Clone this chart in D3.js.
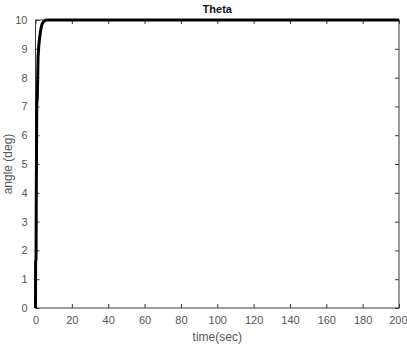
<!DOCTYPE html>
<html><head><meta charset="utf-8">
<script src="https://cdn.jsdelivr.net/npm/d3@7"></script>
<style>body{margin:0;background:#fff}svg{display:block}</style>
</head><body>
<svg id="c" width="407" height="348"></svg>
<script>
const timeSec = [0, 0.05, 0.3, 0.4, 0.7, 1.0, 1.4, 1.8, 2.3, 3.0, 3.6, 4.5, 5.8, 200];
const angleDeg = [0, 1.6, 1.7, 3.5, 7.1, 7.3, 8.7, 9.1, 9.4, 9.7, 9.86, 9.95, 10, 10];
const xTicks = [0,20,40,60,80,100,120,140,160,180,200];
const yTicks = [0,1,2,3,4,5,6,7,8,9,10];
const title = "Theta", xLabel = "time(sec)", yLabel = "angle (deg)";

const svg = d3.select("#c");
const m = {l:35.5, r:399, t:20, b:308};
const x = d3.scaleLinear().domain([0,200]).range([m.l,m.r]);
const y = d3.scaleLinear().domain([0,10]).range([m.b,m.t]);
const axisCol = "#3a3a3a", txtCol = "#555";
const font = "Liberation Sans, Arial, sans-serif";

function style(g){
  g.select(".domain").remove();
  g.selectAll("line").attr("stroke",axisCol);
  g.selectAll("text").attr("fill",txtCol).style("font-family",font).style("font-size","11px");
}
const xb = svg.append("g").attr("transform",`translate(0,${m.b})`)
  .call(d3.axisBottom(x).tickValues(xTicks).tickSizeInner(-4).tickSizeOuter(0).tickPadding(8)).call(style);
xb.selectAll("text").filter(d=>d===200).attr("text-anchor","end").attr("dx","8px");
svg.append("g").attr("transform",`translate(0,${m.t})`)
  .call(d3.axisTop(x).tickValues(xTicks).tickSizeInner(-4).tickSizeOuter(0).tickFormat("")).call(style);
svg.append("g").attr("transform",`translate(${m.l},0)`)
  .call(d3.axisLeft(y).tickValues(yTicks).tickSizeInner(-4).tickSizeOuter(0).tickPadding(8)).call(style);
svg.append("g").attr("transform",`translate(${m.r},0)`)
  .call(d3.axisRight(y).tickValues(yTicks).tickSizeInner(-4).tickSizeOuter(0).tickFormat("")).call(style);

svg.append("rect").attr("x",m.l).attr("y",m.t).attr("width",m.r-m.l).attr("height",m.b-m.t)
  .attr("fill","none").attr("stroke",axisCol).attr("stroke-width",1);

const data = timeSec.map((t,i)=>({t, v:angleDeg[i]}));
svg.append("path").datum(data)
  .attr("d", d3.line().x(d=>x(d.t)).y(d=>y(d.v)))
  .attr("fill","none").attr("stroke","#000").attr("stroke-width",3).attr("stroke-linejoin","round");

svg.append("text").attr("x",(m.l+m.r)/2).attr("y",13).attr("text-anchor","middle")
  .style("font-family",font).style("font-size","11px").style("font-weight","bold").attr("fill","#111").text(title);
svg.append("text").attr("x",(m.l+m.r)/2).attr("y",341).attr("text-anchor","middle")
  .style("font-family",font).style("font-size","12px").attr("fill",txtCol).text(xLabel);
svg.append("text").attr("transform",`translate(12,${(m.t+m.b)/2}) rotate(-90)`).attr("text-anchor","middle")
  .style("font-family",font).style("font-size","12px").attr("fill",txtCol).text(yLabel);
</script>
</body></html>
